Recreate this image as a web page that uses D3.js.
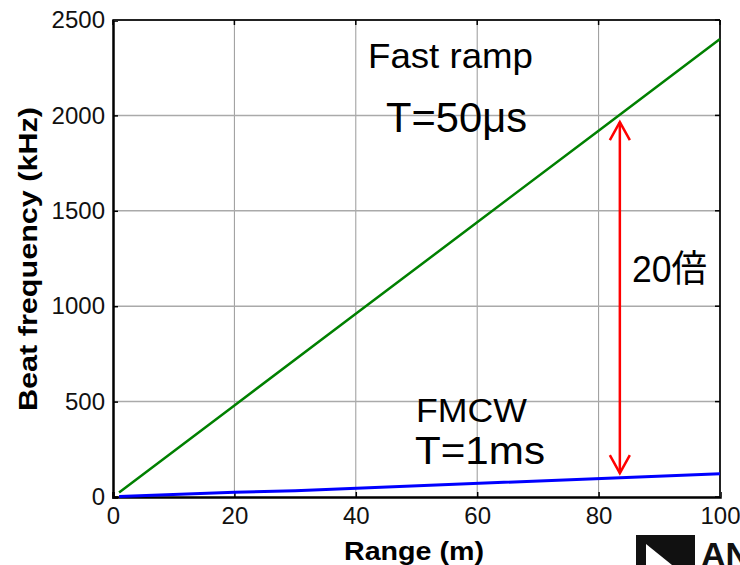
<!DOCTYPE html>
<html><head><meta charset="utf-8">
<script src="https://cdn.jsdelivr.net/npm/d3@7"></script>
<style>body{margin:0;background:#fff;}svg{display:block;}</style>
</head><body>
<svg id="c" width="740" height="565"></svg>
<script>
const xTicks = [0, 20, 40, 60, 80, 100];
const yTicks = [0, 500, 1000, 1500, 2000, 2500];
const fastRange = [1, 20, 40, 60, 80, 100];
const fastBeat = [24, 480, 960, 1440, 1920, 2400];
const fmcwRange = [1, 20, 30, 100];
const fmcwBeat = [3, 25, 33, 122];
const arrowRange = 83.5;
const arrowFrom = 1965;
const arrowTo = 125;

const svg = d3.select("#c");
const L = 113, R = 720, T = 20, B = 497;
const x = d3.scaleLinear().domain([0, 100]).range([L, R]);
const y = d3.scaleLinear().domain([0, 2500]).range([B, T]);
const font = "'Liberation Sans', Arial, sans-serif";
const cjk = font + ", 'Noto Sans CJK JP'";

// grid
svg.append("g").selectAll("line").data(xTicks.slice(1, -1)).join("line")
  .attr("x1", d => x(d)).attr("x2", d => x(d)).attr("y1", T).attr("y2", B)
  .attr("stroke", "#999").attr("stroke-width", 1);
svg.append("g").selectAll("line").data(yTicks.slice(1, -1)).join("line")
  .attr("y1", d => y(d)).attr("y2", d => y(d)).attr("x1", L).attr("x2", R)
  .attr("stroke", "#aaa").attr("stroke-width", 1.5);

// axes
const xAxis = d3.axisBottom(x).tickValues(xTicks).tickFormat(d3.format("d")).tickSize(-5).tickPadding(9);
const yAxis = d3.axisLeft(y).tickValues(yTicks).tickFormat(d3.format("d")).tickSize(-5).tickPadding(8);
const gx = svg.append("g").attr("transform", `translate(0,${B})`).call(xAxis);
const gy = svg.append("g").attr("transform", `translate(${L},0)`).call(yAxis);
[gx, gy].forEach(g => {
  g.select(".domain").attr("stroke", "#000").attr("stroke-width", 2.5);
  g.selectAll(".tick line").attr("stroke", "#000").attr("stroke-width", 1.5);
  g.selectAll("text").attr("font-family", font).attr("font-size", 24).attr("fill", "#111");
});
gx.selectAll(".tick text").attr("dy", "0.75em");
// top & right frame
svg.append("line").attr("x1", L).attr("x2", R).attr("y1", T).attr("y2", T).attr("stroke", "#222").attr("stroke-width", 2);
svg.append("line").attr("x1", R).attr("x2", R).attr("y1", T).attr("y2", B).attr("stroke", "#222").attr("stroke-width", 2);
svg.append("g").selectAll("line").data(xTicks).join("line")
  .attr("x1", d => x(d)).attr("x2", d => x(d)).attr("y1", T).attr("y2", T + 5).attr("stroke", "#000").attr("stroke-width", 1.5);
svg.append("g").selectAll("line").data(yTicks).join("line")
  .attr("y1", d => y(d)).attr("y2", d => y(d)).attr("x1", R).attr("x2", R - 5).attr("stroke", "#000").attr("stroke-width", 1.5);

// lines
const line = d3.line().x(d => x(d[0])).y(d => y(d[1]));
svg.append("path").datum(d3.zip(fastRange, fastBeat)).attr("d", line)
  .attr("fill", "none").attr("stroke", "#008000").attr("stroke-width", 2.5);
svg.append("path").datum(d3.zip(fmcwRange, fmcwBeat)).attr("d", line)
  .attr("fill", "none").attr("stroke", "#0000ff").attr("stroke-width", 3);

// red double arrow
const ax = x(arrowRange), ay1 = y(arrowFrom), ay2 = y(arrowTo);
svg.append("line").attr("x1", ax).attr("x2", ax).attr("y1", ay1).attr("y2", ay2)
  .attr("stroke", "#ff0000").attr("stroke-width", 2.5);
svg.append("path").attr("d", `M${ax - 10},${ay1 + 18}L${ax},${ay1}L${ax + 10},${ay1 + 18}`)
  .attr("fill", "none").attr("stroke", "#ff0000").attr("stroke-width", 2.5);
svg.append("path").attr("d", `M${ax - 10},${ay2 - 18}L${ax},${ay2}L${ax + 10},${ay2 - 18}`)
  .attr("fill", "none").attr("stroke", "#ff0000").attr("stroke-width", 2.5);

// annotations
const ann = (t, px, py, fs, w) => svg.append("text").text(t).attr("x", px).attr("y", py)
  .attr("font-family", cjk).attr("font-size", fs).attr("fill", "#000")
  .attr("textLength", w).attr("lengthAdjust", "spacingAndGlyphs");
ann("Fast ramp", 368, 68, 35, 165);
ann("T=50μs", 386, 132, 43, 141);
ann("20倍", 632, 282, 37, 75);
ann("FMCW", 416, 422, 34, 111);
ann("T=1ms", 415, 464, 39, 130);

// axis titles
svg.append("text").text("Range (m)").attr("x", 414).attr("y", 560).attr("text-anchor", "middle")
  .attr("font-family", font).attr("font-weight", "bold").attr("font-size", 25).attr("fill", "#000")
  .attr("textLength", 140).attr("lengthAdjust", "spacingAndGlyphs");
svg.append("text").text("Beat frequency (kHz)").attr("transform", "translate(37,259) rotate(-90)")
  .attr("text-anchor", "middle")
  .attr("font-family", font).attr("font-weight", "bold").attr("font-size", 25).attr("fill", "#000")
  .attr("textLength", 304).attr("lengthAdjust", "spacingAndGlyphs");

// logo fragment
svg.append("rect").attr("x", 636).attr("y", 535).attr("width", 59).attr("height", 30).attr("fill", "#111");
svg.append("path").attr("d", "M646,544L646,565L672,565Z").attr("fill", "#fff");
svg.append("text").text("AN").attr("x", 701).attr("y", 566).attr("font-family", font)
  .attr("font-weight", "bold").attr("font-size", 34).attr("fill", "#111");
</script>
</body></html>
